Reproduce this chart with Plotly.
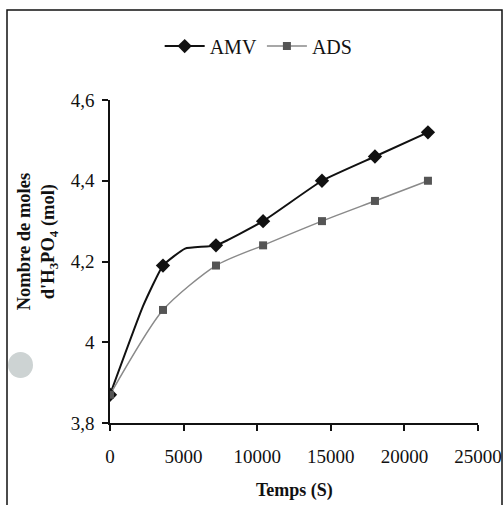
import plotly.graph_objects as go

# ---- data ----
amv_t = [0, 3600, 7200, 10400, 14400, 18000, 21600]
amv_y = [3.87, 4.19, 4.24, 4.30, 4.40, 4.46, 4.52]
amv_curve_t = [0, 2250, 3600, 5100, 7200, 10400, 14400, 18000, 21600]
amv_curve_y = [3.87, 4.09, 4.19, 4.232, 4.24, 4.30, 4.40, 4.46, 4.52]
ads_t = [0, 3600, 7200, 10400, 14400, 18000, 21600]
ads_y = [3.87, 4.08, 4.19, 4.24, 4.30, 4.35, 4.40]

x_tickvals = [0, 5000, 10000, 15000, 20000, 25000]
x_ticktext = ["0", "5000", "10000", "15000", "20000", "25000"]
y_tickvals = [3.8, 4.0, 4.2, 4.4, 4.6]
y_ticktext = ["3,8", "4", "4,2", "4,4", "4,6"]

FONT = "Liberation Serif"
AMV_C = "#111111"
ADS_LINE = "#8a8a8a"
ADS_MARK = "#555555"

fig = go.Figure()
# lines
fig.add_trace(go.Scatter(x=amv_curve_t, y=amv_curve_y, mode="lines",
                         line=dict(color=AMV_C, width=2, shape="spline", smoothing=0.4),
                         showlegend=False, hoverinfo="skip"))
fig.add_trace(go.Scatter(x=ads_t, y=ads_y, mode="lines",
                         line=dict(color=ADS_LINE, width=1.5, shape="spline", smoothing=0.7),
                         showlegend=False, hoverinfo="skip"))
# markers
fig.add_trace(go.Scatter(x=amv_t, y=amv_y, mode="markers",
                         marker=dict(symbol="diamond", size=11, color=AMV_C),
                         showlegend=False))
fig.add_trace(go.Scatter(x=ads_t, y=ads_y, mode="markers",
                         marker=dict(symbol="square", size=8, color=ADS_MARK),
                         showlegend=False))
# legend entries
fig.add_trace(go.Scatter(x=[None], y=[None], mode="lines+markers", name="AMV",
                         line=dict(color=AMV_C, width=2),
                         marker=dict(symbol="diamond", size=11, color=AMV_C)))
fig.add_trace(go.Scatter(x=[None], y=[None], mode="lines+markers", name="ADS",
                         line=dict(color=ADS_LINE, width=1.5),
                         marker=dict(symbol="square", size=8, color=ADS_MARK)))

fig.update_layout(
    width=503, height=505,
    margin=dict(l=110, r=25, t=100, b=82, autoexpand=False),
    paper_bgcolor="white", plot_bgcolor="white",
    font=dict(family=FONT, size=19, color="#111111"),
    showlegend=True,
    legend=dict(orientation="h", x=0.135, xanchor="left", y=1.167, yanchor="middle",
                font=dict(family=FONT, size=20, color="#111111"),
                itemwidth=40, tracegroupgap=0, bgcolor="rgba(0,0,0,0)"),
    xaxis=dict(range=[0, 25000], tickvals=x_tickvals, ticktext=x_ticktext,
               showgrid=False, zeroline=False, showline=True, linecolor="#111111",
               linewidth=1.5, ticks="outside", ticklen=6, tickwidth=1.5,
               tickcolor="#111111", ticklabelstandoff=9, automargin=False),
    yaxis=dict(range=[3.8, 4.6], tickvals=y_tickvals, ticktext=y_ticktext,
               showgrid=False, zeroline=False, showline=True, linecolor="#111111",
               linewidth=1.5, ticks="outside", ticklen=6, tickwidth=1.5,
               tickcolor="#111111", ticklabelstandoff=4, automargin=False),
    annotations=[
        dict(text="<b>Nombre de moles<br>d'H<sub>3</sub>PO<sub>4</sub> (mol)</b>",
             xref="paper", yref="paper", x=-0.198, y=0.56, xanchor="center",
             yanchor="middle", textangle=-90, showarrow=False,
             font=dict(family=FONT, size=18.5, color="#111111")),
        dict(text="<b>Temps (S)</b>", xref="paper", yref="paper",
             x=0.5, y=-0.21, xanchor="center", yanchor="middle", showarrow=False,
             font=dict(family=FONT, size=18, color="#111111")),
    ],
    shapes=[
        dict(type="rect", xref="paper", yref="paper",
             x0=(7 - 110) / 368, x1=(502 - 110) / 368,
             y0=(423 - 520) / 323, y1=(423 - 10) / 323,
             line=dict(color="#111111", width=1.5), fillcolor="rgba(0,0,0,0)"),
        dict(type="circle", xref="paper", yref="paper",
             x0=(8 - 110) / 368, x1=(33 - 110) / 368,
             y0=(423 - 378) / 323, y1=(423 - 352) / 323,
             line=dict(width=0), fillcolor="#cdd3d3"),
    ],
)

fig.write_html("out.html")
